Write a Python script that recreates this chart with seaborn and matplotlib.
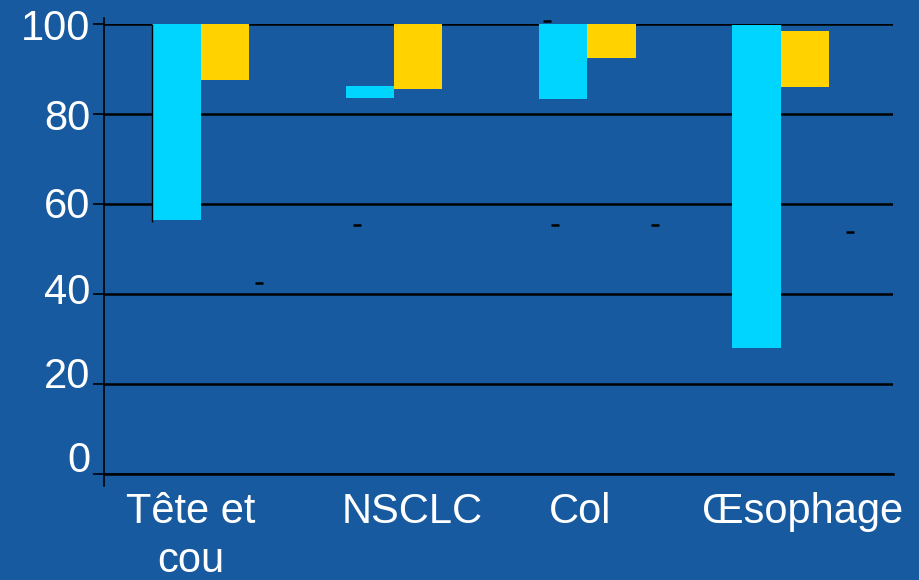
import matplotlib
matplotlib.use("Agg")
import matplotlib.pyplot as plt
import matplotlib.transforms as mtransforms
import seaborn as sns
import pandas as pd

categories = ["Tête et\ncou", "NSCLC", "Col", "Œsophage"]
series = ["A", "B"]
cyan_low = [56.5, 83.6, 83.3, 28.0]
cyan_high = [100.0, 86.2, 100.0, 99.8]
gold_low = [87.6, 85.6, 92.4, 86.0]
gold_high = [100.0, 100.0, 100.0, 98.5]
# small dash markers (category position, value)
dash_pos = [0.30, 0.81, 1.83, 2.35, 3.36, 1.79]
dash_val = [42.4, 55.3, 55.3, 55.3, 53.8, 100.6]
yticks = [0, 20, 40, 60, 80, 100]

BG = "#175A9F"
CYAN = "#00D5FF"
GOLD = "#FFD200"

sns.set_theme(style="white")
plt.rcParams["font.family"] = ["Liberation Sans", "DejaVu Sans"]

df = pd.DataFrame({
    "cat": categories * 2,
    "series": [series[0]] * 4 + [series[1]] * 4,
    "low": cyan_low + gold_low,
    "high": cyan_high + gold_high,
})

fig = plt.figure(figsize=(9.2, 5.8), dpi=100, facecolor=BG)
ax = fig.add_axes([104 / 920, 1 - 474 / 580, (893 - 104) / 920, (474 - 24) / 580])
ax.set_facecolor(BG)

sns.barplot(data=df, x="cat", y="high", hue="series", palette=[CYAN, GOLD],
            width=0.5, gap=0, dodge=True, ax=ax, legend=False,
            saturation=1, linewidth=0, zorder=3)

# turn bars into floating ranges
for cont, lows, highs in zip(ax.containers, [cyan_low, gold_low], [cyan_high, gold_high]):
    for patch, lo, hi in zip(cont.patches, lows, highs):
        patch.set_y(lo)
        patch.set_height(hi - lo)

# thin black line at left edge of first bar
p0 = ax.containers[0].patches[0]
ax.vlines(p0.get_x(), p0.get_y() - 0.5, 100, color="black", lw=1, zorder=4)

sns.scatterplot(x=dash_pos, y=dash_val, marker="_", s=40, color="black",
                linewidth=1.8, ax=ax, zorder=5, clip_on=False)

ax.set_xlim(-0.5, 3.58)
ax.set_ylim(0, 100)
ax.set_yticks(yticks)
ax.set_yticklabels([str(v) for v in yticks], color="white", fontsize=30)
ax.tick_params(axis="y", length=8, width=1.2, color="black", left=True, pad=2)
ax.tick_params(axis="x", length=0, pad=13)

# fine layout offsets of tick labels (pixels)
y_label_dy = [17, 12, 5, 2, 0, -1]
for lab, dy in zip(ax.get_yticklabels(), y_label_dy):
    lab.set_transform(lab.get_transform() +
                      mtransforms.ScaledTranslation(0, dy / 100, fig.dpi_scale_trans))
x_label_dx = [-10, 18, -7, 22]
for lab, dx in zip(ax.get_xticklabels(), x_label_dx):
    lab.set_color("white")
    lab.set_fontsize(30)
    lab.set_linespacing(1.28)
    lab.set_verticalalignment("top")
    lab.set_transform(lab.get_transform() +
                      mtransforms.ScaledTranslation(dx / 100, 0, fig.dpi_scale_trans))

ax.grid(axis="y", color="black", lw=1.8, zorder=1)
ax.set_axisbelow(True)
for s in ["top", "right"]:
    ax.spines[s].set_visible(False)
ax.spines["left"].set_color("black")
ax.spines["left"].set_linewidth(1.2)
ax.spines["left"].set_bounds(-2.6, 101.3)
ax.spines["bottom"].set_color("black")
ax.spines["bottom"].set_linewidth(1.8)
ax.set_xlabel("")
ax.set_ylabel("")

fig.savefig("out.png", dpi=100, facecolor=BG)
